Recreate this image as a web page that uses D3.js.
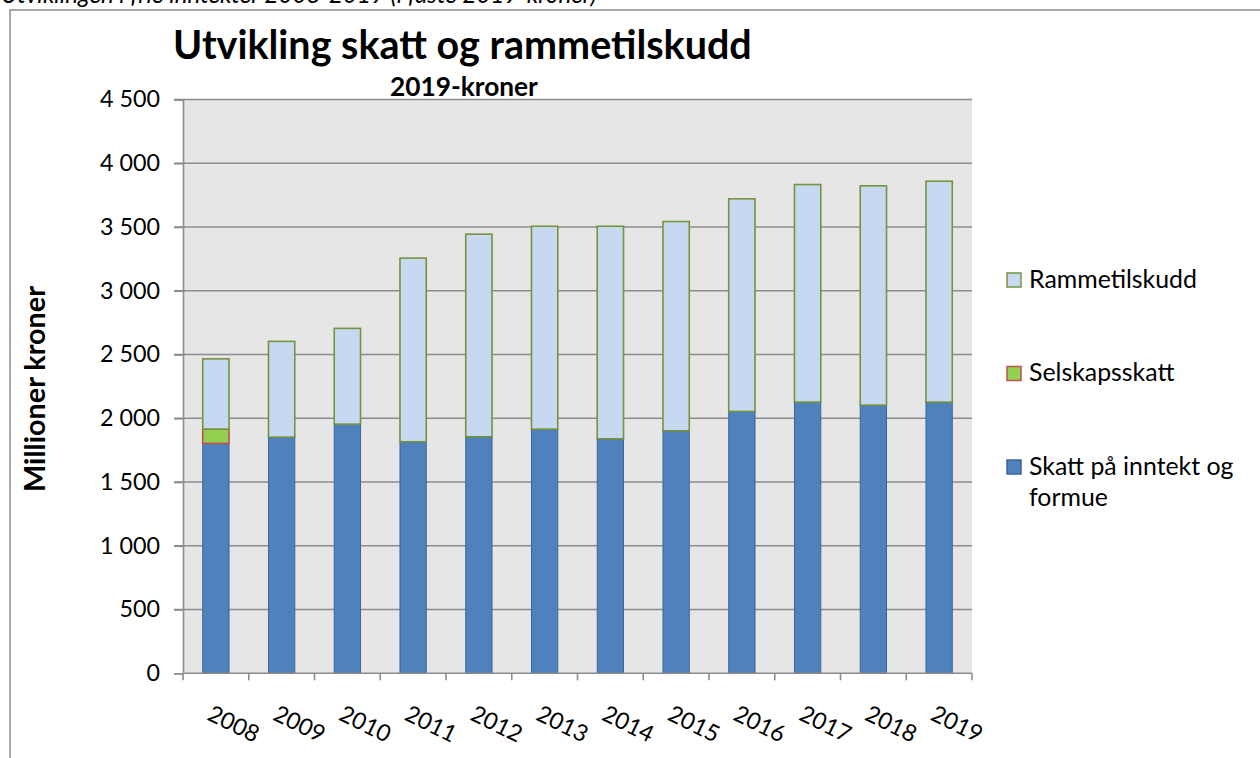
<!DOCTYPE html>
<html><head><meta charset="utf-8">
<script src="https://cdn.jsdelivr.net/npm/d3@7"></script>
<style>
body{margin:0;background:#fff;}
svg{display:block;}
text{font-family:Lato,"Open Sans","DejaVu Sans",sans-serif;fill:#000;}
</style>
</head><body>
<svg id="c" width="1260" height="758"></svg>
<script>
// ---- data ----
const years = ["2008","2009","2010","2011","2012","2013","2014","2015","2016","2017","2018","2019"];
const skatt = [1803,1852,1954,1816,1855,1915,1839,1902,2054,2127,2103,2127];
const selskapsskatt = [112,0,0,0,0,0,0,0,0,0,0,0];
const rammetilskudd = [551,751,751,1440,1589,1591,1667,1641,1667,1706,1720,1732];
const yTicks = [0,500,1000,1500,2000,2500,3000,3500,4000,4500];
const seriesKeys = ["skatt","selskap","ramme"];
const titleText = "Utvikling skatt og rammetilskudd";
const subtitleText = "2019-kroner";
const captionText = "Utviklingen i frie inntekter 2008-2019 (i faste 2019-kroner)";
const yTitle = "Millioner kroner";

// ---- styles ----
const fills = {skatt:"#4F81BD", selskap:"#92D050", ramme:"#C6D9F1"};
const strokes = {skatt:"#3B6698", selskap:"#C0504D", ramme:"#77933C"};

const svg = d3.select("#c");
const L = 183, R = 972, T = 99.5, B = 673.3;

function fit(sel, w){
  const l = sel.node().getComputedTextLength();
  const fs = parseFloat(sel.attr("font-size"));
  sel.attr("font-size", fs*w/l);
  return fs*w/l;
}

// caption (cut at top, as in the reference)
const cap = svg.append("text").attr("x",1).attr("y",3).attr("font-size",24)
  .attr("font-style","italic").text(captionText);
fit(cap, 596);

// chart frame
svg.append("rect").attr("x",10).attr("y",10).attr("width",1300).attr("height",800)
  .attr("fill","none").attr("stroke","#8c8c8c").attr("stroke-width",1.5);

// data table
const table = years.map((y,i)=>({year:y, skatt:skatt[i], selskap:selskapsskatt[i], ramme:rammetilskudd[i]}));
const stacked = d3.stack().keys(seriesKeys)(table);

const x = d3.scaleBand().domain(years).range([L,R]).paddingInner(0.6).paddingOuter(0.3);
const y = d3.scaleLinear().domain([0,4500]).range([B,T]);

// plot background
svg.append("rect").attr("x",L).attr("y",T).attr("width",R-L).attr("height",B-T).attr("fill","#E6E6E6");

// gridlines
svg.append("g").selectAll("line").data(yTicks.filter(d=>d>0)).join("line")
  .attr("x1",L-9).attr("x2",R).attr("y1",d=>y(d)).attr("y2",d=>y(d))
  .attr("stroke","#8c8c8c").attr("stroke-width",1.6);

// bars
svg.append("g").selectAll("g").data(stacked).join("g")
  .attr("fill",d=>fills[d.key]).attr("stroke",d=>strokes[d.key]).attr("stroke-width",d=>d.key==="skatt"?1:1.6)
  .selectAll("rect").data(d=>d.filter(s=>s[1]-s[0]>0)).join("rect")
  .attr("x",d=>x(d.data.year)).attr("width",x.bandwidth())
  .attr("y",d=>y(d[1])).attr("height",d=>y(d[0])-y(d[1]));

// y axis
const fmt = d3.formatLocale({thousands:"\u00a0", grouping:[3], decimal:",", currency:["",""]}).format(",");
const yAxis = svg.append("g").attr("transform",`translate(${L},0)`)
  .call(d3.axisLeft(y).tickValues(yTicks).tickFormat(fmt).tickSize(9).tickPadding(14));
yAxis.select(".domain").attr("stroke","#8c8c8c").attr("stroke-width",1.6);
yAxis.selectAll(".tick line").attr("stroke","#8c8c8c").attr("stroke-width",1.6);
yAxis.selectAll("text").attr("font-size",24).attr("fill","#000");
const probe = yAxis.selectAll("text").filter(d=>d===4500);
const tickFs = fit(probe, 60);
yAxis.selectAll("text").attr("font-size",tickFs).attr("font-family","Lato,sans-serif");

// x axis
const xAxis = svg.append("g").attr("transform",`translate(0,${B})`);
xAxis.append("line").attr("x1",L).attr("x2",R).attr("stroke","#8c8c8c").attr("stroke-width",1.6);
xAxis.selectAll("line.t").data(d3.range(years.length+1)).join("line").attr("class","t")
  .attr("x1",i=>L+i*(R-L)/years.length).attr("x2",i=>L+i*(R-L)/years.length)
  .attr("y1",0).attr("y2",7).attr("stroke","#8c8c8c").attr("stroke-width",1.6);
xAxis.selectAll("text").data(years).join("text")
  .attr("font-size",tickFs)
  .attr("transform",d=>`translate(${x(d)+x.bandwidth()/2-10},${46}) rotate(26)`)
  .text(d=>d);

// titles
const t1 = svg.append("text").attr("x",173).attr("y",59).attr("font-size",40).attr("font-weight","bold").text(titleText);
fit(t1, 579);
const t2 = svg.append("text").attr("x",390).attr("y",96).attr("font-size",26).attr("font-weight","bold").text(subtitleText);
fit(t2, 148);
const yt = svg.append("text").attr("transform","translate(45,389) rotate(-90)").attr("text-anchor","middle")
  .attr("font-size",26).attr("font-weight","bold").text(yTitle);
fit(yt, 206);

// legend
const legendItems = [
  {key:"ramme", lines:["Rammetilskudd"], y:273},
  {key:"selskap", lines:["Selskapsskatt"], y:366.5},
  {key:"skatt", lines:["Skatt på inntekt og","formue"], y:460}
];
const lg = svg.append("g");
let legFs = null;
legendItems.forEach(it=>{
  lg.append("rect").attr("x",1007).attr("y",it.y).attr("width",14).attr("height",14)
    .attr("fill",fills[it.key]).attr("stroke",strokes[it.key]).attr("stroke-width",1.5);
  it.lines.forEach((ln,j)=>{
    const t = lg.append("text").attr("x",1029).attr("y",it.y+14.5+j*31).attr("font-size",legFs||24).text(ln);
    if(!legFs) legFs = fit(t,168);
  });
});
</script>
</body></html>
